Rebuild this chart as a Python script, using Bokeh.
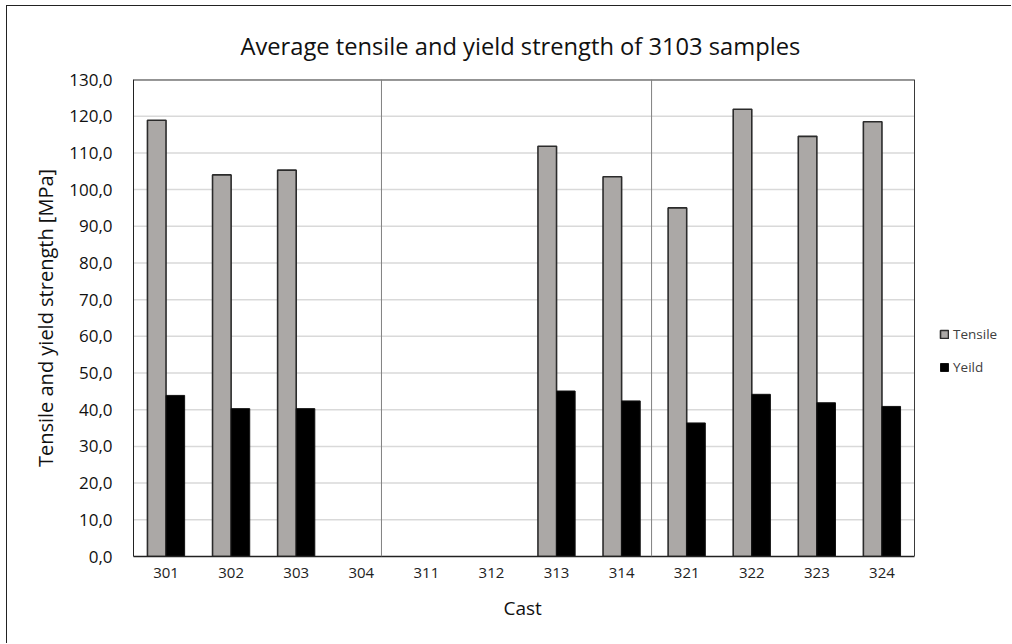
from bokeh.plotting import figure
from bokeh.models import (ColumnDataSource, Range1d, FixedTicker, Span,
                          Legend, LegendItem, Title)
from bokeh.transform import dodge
from bokeh.embed import file_html
from bokeh.resources import INLINE

casts = ["301", "302", "303", "304", "311", "312", "313", "314", "321", "322", "323", "324"]
nan = float("nan")
tensile = [118.9, 104.0, 105.3, nan, nan, nan, 111.8, 103.5, 95.0, 121.9, 114.5, 118.5]
yeild = [43.9, 40.3, 40.3, nan, nan, nan, 45.1, 42.4, 36.4, 44.2, 41.9, 40.9]
y_ticks = list(range(0, 131, 10))
dividers = [3.31, 7.46]

FONT = "Open Sans"
n = len(casts)
idx = list(range(n))
src = ColumnDataSource(dict(idx=idx, tensile=tensile, yeild=yeild))
grid_src = ColumnDataSource(dict(y=y_ticks[1:], x0=[-0.5] * (len(y_ticks) - 1),
                                 x1=[n - 0.5] * (len(y_ticks) - 1)))

W, H = 1005, 638
LEFT, PLOT_W = 126, 781          # plot box width for the 12 casts
x_end = -0.5 + n * (W - LEFT) / PLOT_W   # frame extends to the right edge (legend area)

p = figure(width=W, height=H, output_backend="svg", toolbar_location=None,
           x_range=Range1d(-0.5, x_end), y_range=Range1d(0, 130),
           min_border_left=LEFT, min_border_right=0, min_border_top=73,
           min_border_bottom=88,
           title="Average tensile and yield strength of 3103 samples")
p.styles = {"margin-left": "6px", "margin-top": "5px",
            "border-left": "1px solid #222", "border-top": "1px solid #222"}
p.outline_line_color = None
p.background_fill_color = "white"
p.border_fill_color = "white"

p.title.align = "left"
p.title.offset = 107
p.title.text_font = FONT
p.title.text_font_size = "23.7px"
p.title.text_font_style = "normal"
p.title.text_color = "#111111"
p.title.standoff = 36

p.xgrid.visible = False
p.ygrid.visible = False
p.segment(x0="x0", x1="x1", y0="y", y1="y", source=grid_src,
          line_color="#d9d9d9", line_width=1.5)
# top edge and right edge of the plot box
p.segment(x0=[-0.5], x1=[n - 0.5], y0=[130], y1=[130], line_color="#3a3a3a", line_width=2)
p.add_layout(Span(location=n - 0.5, dimension="height", line_color="#3a3a3a", line_width=1))

bw = 0.2857
r1 = p.vbar(x=dodge("idx", -bw / 2, range=p.x_range), top="tensile", width=bw,
            source=src, fill_color="#aba8a6", line_color="#2b2b2b", line_width=1.6)
r2 = p.vbar(x=dodge("idx", bw / 2, range=p.x_range), top="yeild", width=bw,
            source=src, fill_color="#000000", line_color="#111111", line_width=1)

for d in dividers:
    p.add_layout(Span(location=d, dimension="height", line_color="#808080", line_width=1))

xa = p.xaxis[0]
xa.bounds = (-0.5, n - 0.5)
xa.ticker = FixedTicker(ticks=idx)
xa.major_label_overrides = {i: c for i, c in zip(idx, casts)}
xa.major_tick_out = 0
xa.major_tick_in = 0
xa.minor_tick_out = 0
xa.minor_tick_in = 0
xa.axis_line_color = "#222222"
xa.axis_line_width = 1.5
xa.major_label_text_font = FONT
xa.major_label_text_font_size = "15px"
xa.major_label_text_color = "#222222"
xa.major_label_standoff = 11

# x-axis title, centred under the plot box (not the legend area)
p.add_layout(Title(text="Cast", align="left", offset=370, standoff=24,
                   text_font=FONT, text_font_size="19px", text_font_style="normal",
                   text_color="#111111"), "below")

ya = p.yaxis[0]
ya.ticker = FixedTicker(ticks=y_ticks)
ya.major_label_overrides = {v: f"{v},0" for v in y_ticks}
ya.major_tick_out = 0
ya.major_tick_in = 0
ya.minor_tick_out = 0
ya.minor_tick_in = 0
ya.axis_line_color = "#222222"
ya.axis_line_width = 1
ya.major_label_text_font = FONT
ya.major_label_text_font_size = "17px"
ya.major_label_text_color = "#111111"
ya.major_label_standoff = 21
ya.axis_label = "Tensile and yield strength [MPa]"
ya.axis_label_text_font = FONT
ya.axis_label_text_font_size = "20px"
ya.axis_label_text_font_style = "normal"
ya.axis_label_text_color = "#111111"
ya.axis_label_standoff = 7

legend = Legend(items=[LegendItem(label="Tensile", renderers=[r1]),
                       LegendItem(label="Yeild", renderers=[r2])],
                location=(806, 180), orientation="vertical",
                label_text_font=FONT, label_text_font_size="13.5px",
                label_text_color="#404040", glyph_width=10, glyph_height=10,
                label_standoff=4, spacing=15, padding=4, margin=0,
                border_line_color=None, background_fill_alpha=0)
p.add_layout(legend)

open("out.html", "w").write(file_html(p, INLINE))
